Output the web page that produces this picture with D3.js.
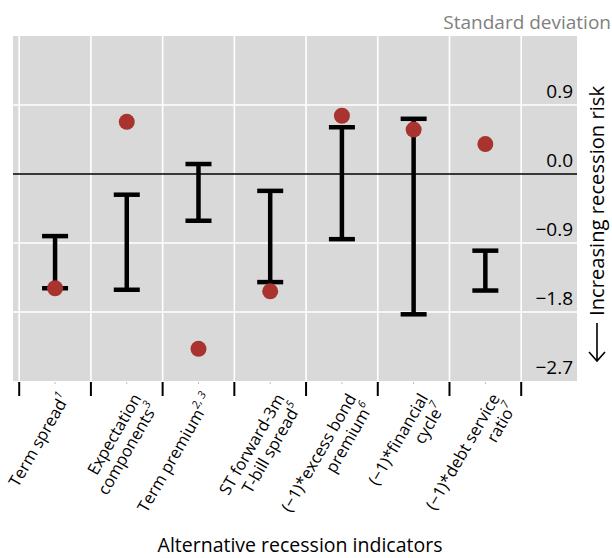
<!DOCTYPE html>
<html>
<head>
<meta charset="utf-8">
<script src="https://cdn.jsdelivr.net/npm/d3@7"></script>
<style>
  html, body { margin: 0; padding: 0; background: #fff; }
  svg { display: block; font-family: "Open Sans", sans-serif; }
</style>
</head>
<body>
<div id="chart"></div>
<script>
// indicator names, split into the lines used under the axis
const labelLines = [
  ["Term spread"],
  ["Expectation", "components"],
  ["Term premium"],
  ["ST forward-3m", "T-bill spread"],
  ["(\u22121)*excess bond", "premium"],
  ["(\u22121)*financial", "cycle"],
  ["(\u22121)*debt service", "ratio"]
];
const labelNotes = ["1", "3", "2, 3", "5", "6", "7", "7"];

// range bounds and latest reading, in standard deviations
const rangeHigh = [-0.81, -0.27, 0.13, -0.22, 0.61, 0.72, -1.00];
const rangeLow  = [-1.49, -1.51, -0.61, -1.41, -0.85, -1.83, -1.52];
const latest    = [-1.49, 0.68, -2.28, -1.53, 0.76, 0.58, 0.39];

const yTicks = [0.9, 0.0, -0.9, -1.8, -2.7];

const width = 612;
const height = 558;
const plot = { left: 13, right: 577, top: 36, bottom: 381 };

const svg = d3.select("#chart")
  .append("svg")
  .attr("width", width)
  .attr("height", height)
  .attr("viewBox", [0, 0, width, height]);

const x = d3.scaleLinear()
  .domain([-0.5, 6.5])
  .range([19.2, 521.2]);

const y = d3.scaleLinear()
  .domain([-2.7, 1.8])
  .range([plot.bottom, plot.top]);

const fmt = v => d3.format(".1f")(v).replace("-", "\u2212");

// background
svg.append("rect")
  .attr("x", plot.left)
  .attr("y", plot.top)
  .attr("width", plot.right - plot.left)
  .attr("height", plot.bottom - plot.top)
  .attr("fill", "#d9d9d9");

// grid
const bounds = d3.range(-0.5, 7, 1);
svg.append("g")
  .selectAll("line")
  .data(bounds)
  .join("line")
  .attr("x1", d => x(d))
  .attr("x2", d => x(d))
  .attr("y1", plot.top)
  .attr("y2", plot.bottom)
  .attr("stroke", "#fff")
  .attr("stroke-width", 1.6);

svg.append("g")
  .selectAll("line")
  .data(yTicks.filter(d => d !== 0 && d !== -2.7))
  .join("line")
  .attr("x1", plot.left)
  .attr("x2", plot.right)
  .attr("y1", d => y(d))
  .attr("y2", d => y(d))
  .attr("stroke", "#fff")
  .attr("stroke-width", 1.6);

// zero line
svg.append("line")
  .attr("x1", plot.left)
  .attr("x2", plot.right)
  .attr("y1", y(0))
  .attr("y2", y(0))
  .attr("stroke", "#000")
  .attr("stroke-width", 1.3);

// y tick labels, inside the plot on the right
svg.append("g")
  .selectAll("text")
  .data(yTicks)
  .join("text")
  .attr("x", 573)
  .attr("y", d => y(d) - 7)
  .attr("text-anchor", "end")
  .attr("font-size", 19)
  .attr("fill", "#000")
  .text(fmt);

// bottom ticks
svg.append("g")
  .selectAll("line")
  .data(bounds)
  .join("line")
  .attr("x1", d => x(d))
  .attr("x2", d => x(d))
  .attr("y1", plot.bottom + 1)
  .attr("y2", plot.bottom + 15)
  .attr("stroke", "#000")
  .attr("stroke-width", 2);

svg.append("g")
  .selectAll("line")
  .data(d3.range(labelLines.length))
  .join("line")
  .attr("x1", d => x(d))
  .attr("x2", d => x(d))
  .attr("y1", plot.bottom + 1)
  .attr("y2", plot.bottom + 3)
  .attr("stroke", "#bbb")
  .attr("stroke-width", 1);

// range bars
const capW = 13;
const bars = svg.append("g")
  .attr("stroke", "#000")
  .attr("stroke-width", 4.5);

bars.selectAll(".stem")
  .data(d3.range(labelLines.length))
  .join("line")
  .attr("class", "stem")
  .attr("x1", i => x(i))
  .attr("x2", i => x(i))
  .attr("y1", i => y(rangeHigh[i]))
  .attr("y2", i => y(rangeLow[i]));

bars.selectAll(".capHi")
  .data(d3.range(labelLines.length))
  .join("line")
  .attr("class", "capHi")
  .attr("x1", i => x(i) - capW)
  .attr("x2", i => x(i) + capW)
  .attr("y1", i => y(rangeHigh[i]))
  .attr("y2", i => y(rangeHigh[i]));

bars.selectAll(".capLo")
  .data(d3.range(labelLines.length))
  .join("line")
  .attr("class", "capLo")
  .attr("x1", i => x(i) - capW)
  .attr("x2", i => x(i) + capW)
  .attr("y1", i => y(rangeLow[i]))
  .attr("y2", i => y(rangeLow[i]));

// latest values
svg.append("g")
  .selectAll("circle")
  .data(latest)
  .join("circle")
  .attr("cx", (d, i) => x(i))
  .attr("cy", d => y(d))
  .attr("r", 8)
  .attr("fill", "#a9332e");

// category labels, rotated
const lineGap = 19;
labelLines.forEach((lines, i) => {
  const t = svg.append("text")
    .attr("transform", "translate(" + (x(i) + 15) + "," + 398 + ") rotate(-60)")
    .attr("text-anchor", "end")
    .attr("font-size", 16.5)
    .attr("fill", "#000");
  lines.forEach((ln, j) => {
    t.append("tspan")
      .attr("x", 0)
      .attr("y", j * lineGap)
      .text(ln);
  });
  t.append("tspan")
    .attr("dy", -8)
    .attr("font-size", 11)
    .attr("font-style", "italic")
    .text(labelNotes[i]);
});

// axis titles
svg.append("text")
  .attr("x", 300)
  .attr("y", 552)
  .attr("text-anchor", "middle")
  .attr("font-size", 19.5)
  .text("Alternative recession indicators");

svg.append("text")
  .attr("x", 611)
  .attr("y", 29)
  .attr("text-anchor", "end")
  .attr("font-size", 19)
  .attr("fill", "#808080")
  .text("Standard deviation");

// right-hand title with the down arrow below it
svg.append("text")
  .attr("transform", "translate(604,316) rotate(-90)")
  .attr("font-size", 20.2)
  .text("Increasing recession risk");

svg.append("path")
  .attr("d", "M597,323V361M589,352L597,361L605,352")
  .attr("fill", "none")
  .attr("stroke", "#000")
  .attr("stroke-width", 1.6);
</script>
</body>
</html>
